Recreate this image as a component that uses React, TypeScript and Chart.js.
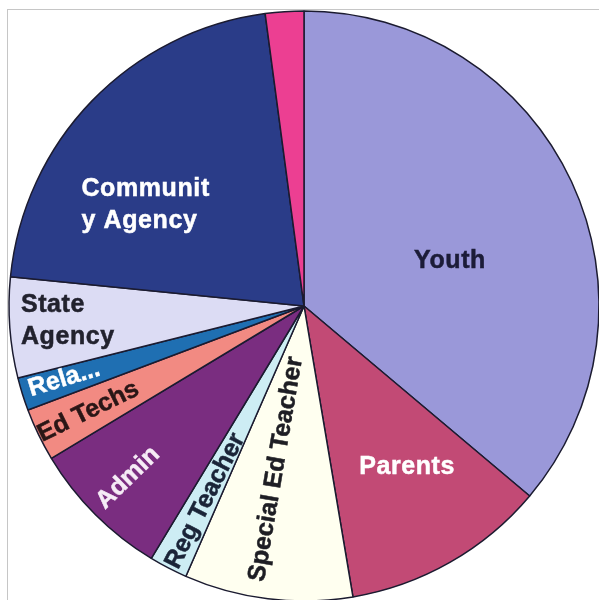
import React, { useEffect, useRef } from "react";
import { Chart, registerables } from "chart.js";

Chart.register(...registerables);

// ---- data ----
const categories = [
  "Youth",
  "Parents",
  "Special Ed Teacher",
  "Reg Teacher",
  "Admin",
  "Ed Techs",
  "Relatives",
  "State Agency",
  "Community Agency",
  "Other",
];
const values = [36.1, 11.2, 9.2, 2.1, 7.7, 2.9, 1.8, 5.5, 21.3, 2.1];
const labelLines = [
  ["Youth"],
  ["Parents"],
  ["Special Ed Teacher"],
  ["Reg Teacher"],
  ["Admin"],
  ["Ed Techs"],
  ["Rela..."],
  ["State", "Agency"],
  ["Communit", "y Agency"],
  [],
];

// ---- style ----
const colors = [
  "#9A98D9",
  "#C24A75",
  "#FFFFF0",
  "#CDEDF4",
  "#7A2D80",
  "#F28A82",
  "#1F6FB2",
  "#DCDCF4",
  "#2A3C88",
  "#EC3F92",
];
const labelColors = [
  "#1c1c38",
  "#ffffff",
  "#1e1e24",
  "#1a2438",
  "#f6ecf6",
  "#2a1616",
  "#ffffff",
  "#22222e",
  "#ffffff",
  "#000000",
];
// t: fraction across slice angle, rf: fraction of radius, mode
const labelPlace = [
  { t: 0.56, rf: 0.518, mode: "h", align: "center" },
  { t: 0.428, rf: 0.648, mode: "h", align: "center" },
  { t: 0.58, rf: 0.561, mode: "r" },
  { t: 0.43, rf: 0.741, mode: "r" },
  { t: 0.523, rf: 0.834, mode: "r" },
  { t: 0.476, rf: 0.814, mode: "r" },
  { t: 0.57, rf: 0.85, mode: "r" },
  { t: 0.56, rf: 0.961, mode: "h", align: "left" },
  { t: 0.245, rf: 0.829, mode: "h", align: "left" },
  { t: 0.5, rf: 0.5, mode: "h", align: "center" },
];

const FONT = 'bold 25px "Liberation Sans", Arial, sans-serif';
const LINE_H = 32;

const sliceLabels = {
  id: "sliceLabels",
  afterDatasetsDraw(chart: any) {
    const ctx = chart.ctx as CanvasRenderingContext2D;
    const meta = chart.getDatasetMeta(0);
    meta.data.forEach((arc: any, i: number) => {
      const lines = labelLines[i];
      if (!lines || !lines.length) return;
      const p = labelPlace[i];
      const { x, y, startAngle, endAngle, outerRadius } = arc.getProps(
        ["x", "y", "startAngle", "endAngle", "outerRadius"],
        true
      );
      const a = startAngle + p.t * (endAngle - startAngle);
      const r = outerRadius * p.rf;
      const px = x + r * Math.cos(a);
      const py = y + r * Math.sin(a);
      ctx.save();
      ctx.font = FONT;
      ctx.fillStyle = labelColors[i];
      ctx.strokeStyle = labelColors[i];
      ctx.lineWidth = 0.5;
      ctx.textBaseline = "middle";
      if (p.mode === "r") {
        (ctx as any).letterSpacing = "0px";
        ctx.translate(px, py);
        ctx.rotate(a + Math.PI);
        ctx.textAlign = "center";
        ctx.fillText(lines[0], 0, 0);
        ctx.strokeText(lines[0], 0, 0);
      } else {
        (ctx as any).letterSpacing = "0.6px";
        ctx.textAlign = (p.align as CanvasTextAlign) || "center";
        const n = lines.length;
        lines.forEach((ln, k) => {
          const yy = py + (k - (n - 1) / 2) * LINE_H;
          ctx.fillText(ln, px, yy);
          ctx.strokeText(ln, px, yy);
        });
      }
      ctx.restore();
    });
  },
};

export default function App() {
  const ref = useRef<HTMLCanvasElement | null>(null);

  useEffect(() => {
    if (!ref.current) return;
    const chart = new Chart(ref.current, {
      type: "pie",
      data: {
        labels: categories,
        datasets: [
          {
            data: values,
            backgroundColor: colors,
            borderColor: "#1b1b30",
            borderWidth: 1.5,
            hoverOffset: 0,
            offset: 0,
          },
        ],
      },
      options: {
        responsive: false,
        animation: false,
        radius: 295,
        layout: { padding: 0 },
        plugins: {
          legend: { display: false },
          tooltip: { enabled: false },
        },
        events: [],
      } as any,
      plugins: [sliceLabels],
    });
    return () => chart.destroy();
  }, []);

  return (
    <div
      style={{
        position: "fixed",
        left: 0,
        top: 0,
        width: 599,
        height: 600,
        overflow: "hidden",
        background: "#ffffff",
      }}
    >
      <div
        style={{
          position: "absolute",
          left: 7,
          top: 9,
          width: 700,
          height: 700,
          borderLeft: "1px solid #c6c6c6",
          borderTop: "1px solid #c6c6c6",
        }}
      />
      <canvas
        ref={ref}
        width={600}
        height={600}
        style={{ position: "absolute", left: 4, top: 6, width: 600, height: 600 }}
      />
    </div>
  );
}
